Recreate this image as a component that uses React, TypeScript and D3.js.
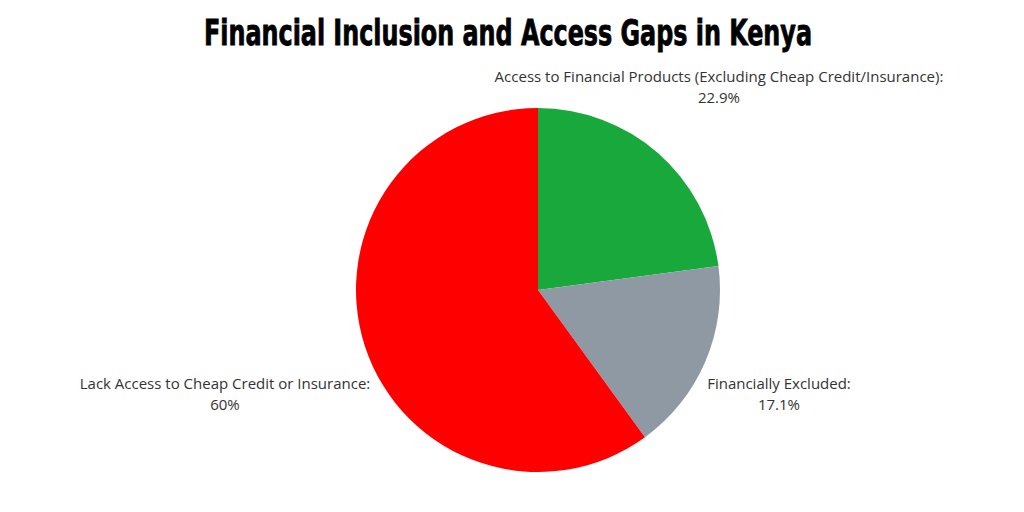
import React, { useEffect, useRef } from "react";
import * as d3 from "d3";

const categories = [
  "Access to Financial Products (Excluding Cheap Credit/Insurance):",
  "Financially Excluded:",
  "Lack Access to Cheap Credit or Insurance:",
];
const values = [22.9, 17.1, 60];
const valueLabels = ["22.9%", "17.1%", "60%"];
const colors = ["#19a83b", "#8e99a3", "#ff0000"];

export default function App() {
  const ref = useRef<SVGSVGElement>(null);

  useEffect(() => {
    const svg = d3.select(ref.current);
    svg.selectAll("*").remove();

    const width = 1024;
    const height = 512;
    const cx = 538;
    const cy = 290;
    const r = 182;

    svg
      .append("rect")
      .attr("width", width)
      .attr("height", height)
      .attr("fill", "#ffffff");

    // condensed heavy title: squeeze a bold face horizontally to the reference width
    const title = svg
      .append("text")
      .attr("text-anchor", "middle")
      .attr("font-family", "'DejaVu Sans Condensed', 'Liberation Sans Narrow', sans-serif")
      .attr("font-weight", "bold")
      .attr("font-size", 36)
      .attr("fill", "#000")
      .attr("stroke", "#000")
      .attr("stroke-width", 0.8)
      .text("Financial Inclusion and Access Gaps in Kenya");
    const tw = (title.node() as SVGTextElement).getComputedTextLength() || 608;
    title.attr("transform", `translate(508,45) scale(${608 / tw},1)`);

    const data = categories.map((c, i) => ({ name: c, value: values[i], label: valueLabels[i], color: colors[i] }));

    const pie = d3
      .pie<(typeof data)[0]>()
      .value((d) => d.value)
      .sort(null);
    const arc = d3.arc<d3.PieArcDatum<(typeof data)[0]>>().innerRadius(0).outerRadius(r);

    const g = svg.append("g").attr("transform", `translate(${cx},${cy})`);
    const arcs = pie(data);

    g.selectAll("path")
      .data(arcs)
      .enter()
      .append("path")
      .attr("d", arc)
      .attr("fill", (d) => d.data.color);

    // label anchor centres
    const labelPos = [
      { x: 719, y: 82 },
      { x: 779, y: 389 },
      { x: 225, y: 389 },
    ];

    const lg = svg
      .append("g")
      .attr("font-family", "'Open Sans', 'Noto Sans', sans-serif")
      .attr("font-size", 15)
      .attr("fill", "#333");

    arcs.forEach((d, i) => {
      const t = lg
        .append("text")
        .attr("x", labelPos[i].x)
        .attr("y", labelPos[i].y)
        .attr("text-anchor", "middle");
      t.append("tspan").attr("x", labelPos[i].x).text(d.data.name);
      t.append("tspan").attr("x", labelPos[i].x).attr("dy", 21).text(d.data.label);
    });
  }, []);

  return (
    <svg
      ref={ref}
      width={1024}
      height={512}
      style={{ position: "absolute", left: 0, top: 0, display: "block" }}
    />
  );
}
